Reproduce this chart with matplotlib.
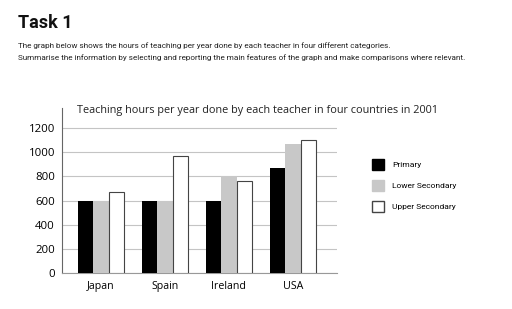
import numpy as np
import matplotlib
matplotlib.use('Agg')
import matplotlib.pyplot as plt
from matplotlib.patches import Patch

# ── Données ────────────────────────────────────────────────
countries = ['Japan', 'Spain', 'Ireland', 'USA']
primary = [600, 600, 600, 870]
lower_secondary = [600, 600, 800, 1070]
upper_secondary = [670, 970, 760, 1100]
series_names = ['Primary', 'Lower Secondary', 'Upper Secondary']
yticks = [0, 200, 400, 600, 800, 1000, 1200]

fig = plt.figure(figsize=(5.12, 3.09), dpi=100)

# ── En-tête ────────────────────────────────────────────────
fig.text(18 / 512, 1 - 23 / 309, 'Task 1', fontsize=13, fontweight='bold',
         family='Roboto', va='center', color='#111111')
fig.text(18 / 512, 1 - 46 / 309,
         'The graph below shows the hours of teaching per year done by each teacher in four different categories.',
         fontsize=5.9, family='Roboto', va='center', color='#222222')
fig.text(18 / 512, 1 - 58 / 309,
         'Summarise the information by selecting and reporting the main features of the graph and make comparisons where relevant.',
         fontsize=5.9, family='Roboto', va='center', color='#222222')

# ── Graphique ──────────────────────────────────────────────
ax = fig.add_axes([62 / 512, 36 / 309, 275 / 512, 165 / 309])
x = np.arange(len(countries))
w = 0.24
ax.bar(x - w, primary, w, color='black', zorder=3)
ax.bar(x, lower_secondary, w, color='#c8c8c8', zorder=3)
ax.bar(x + w, upper_secondary, w, color='white', edgecolor='#444444', linewidth=0.8, zorder=3)

ax.set_xlim(-0.61, 3.69)
ax.set_ylim(0, 1367)
ax.set_yticks(yticks)
ax.yaxis.grid(True, color='#c4c4c4', linewidth=0.8, zorder=0)
ax.set_xticks(x)
ax.set_xticklabels(countries, fontsize=7.7, family='Open Sans')
for lbl in ax.get_yticklabels():
    lbl.set_fontsize(8.2)
    lbl.set_family('Open Sans')
ax.tick_params(axis='x', length=0, pad=6)
ax.tick_params(axis='y', length=0, pad=5)
for s in ['top', 'right']:
    ax.spines[s].set_visible(False)
ax.spines['left'].set_color('#666666')
ax.spines['bottom'].set_color('#999999')

fig.text(77 / 512, 1 - 110 / 309,
         'Teaching hours per year done by each teacher in four countries in 2001',
         fontsize=7.85, family='Open Sans', va='center', color='#222222')

# ── Légende ────────────────────────────────────────────────
handles = [Patch(facecolor='black', edgecolor='black'),
           Patch(facecolor='#c8c8c8', edgecolor='#c8c8c8'),
           Patch(facecolor='white', edgecolor='#444444')]
fig.legend(handles, series_names, loc='upper left',
           bbox_to_anchor=(364 / 512, 1 - 152 / 309), frameon=False,
           prop={'family': 'Roboto', 'size': 6}, handlelength=1.55,
           handleheight=1.55, labelspacing=1.25, handletextpad=0.95)

fig.savefig('out.png', dpi=100)
